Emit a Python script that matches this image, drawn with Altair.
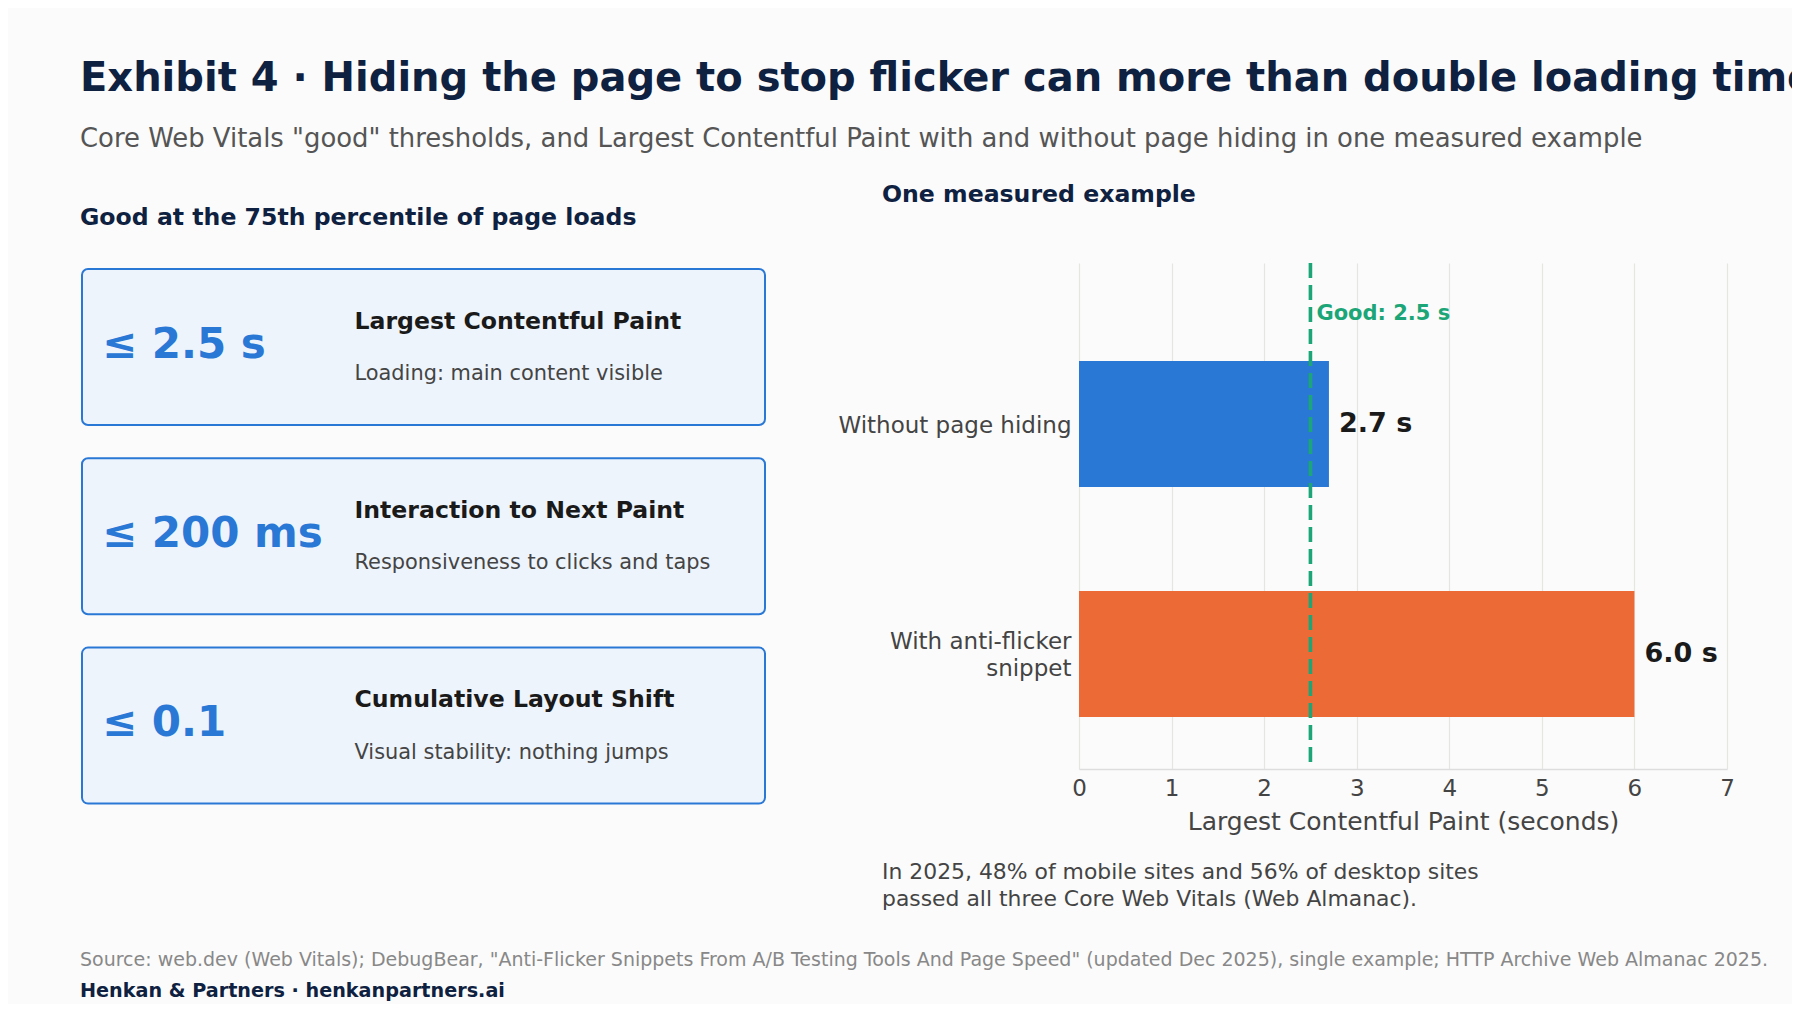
import pandas as pd
import altair as alt

FONT = "DejaVu Sans"
NAVY = "#0f2140"
BLUE = "#2a78d6"
ORANGE = "#ec6a36"
GREEN = "#1ca678"

# Page text
title = "Exhibit 4 · Hiding the page to stop flicker can more than double loading times"
subtitle = ('Core Web Vitals "good" thresholds, and Largest Contentful Paint '
            'with and without page hiding in one measured example')
left_header = "Good at the 75th percentile of page loads"
right_header = "One measured example"
note_lines = ["In 2025, 48% of mobile sites and 56% of desktop sites",
              "passed all three Core Web Vitals (Web Almanac)."]
source = ('Source: web.dev (Web Vitals); DebugBear, "Anti-Flicker Snippets From A/B Testing '
          'Tools And Page Speed" (updated Dec 2025), single example; HTTP Archive Web Almanac 2025.')
footer = "Henkan & Partners · henkanpartners.ai"

# Threshold cards
card_values = ["≤ 2.5 s", "≤ 200 ms", "≤ 0.1"]
card_titles = ["Largest Contentful Paint", "Interaction to Next Paint", "Cumulative Layout Shift"]
card_descs = ["Loading: main content visible", "Responsiveness to clicks and taps",
              "Visual stability: nothing jumps"]

# Measured example
scenarios = ["Without page hiding", "With anti-flicker\nsnippet"]
lcp_seconds = [2.7, 6.0]
bar_colors = [BLUE, ORANGE]
good_lcp = [2.5]

# plot area origin on the page (px)
X0, Y0 = 1079, 263
W, H = 648, 506


def text_at(txt, x, y, size, color, weight="normal", align="left"):
    return alt.Chart(pd.DataFrame({"t": [txt]})).mark_text(
        align=align, baseline="alphabetic", font=FONT, fontSize=size,
        color=color, fontWeight=weight
    ).encode(x=alt.value(x - X0), y=alt.value(y - Y0), text="t:N")


layers = [
    text_at(title, 80, 91, 40, NAVY, "bold"),
    text_at(subtitle, 80, 147, 25.9, "#555555"),
    text_at(left_header, 80, 225, 23.6, NAVY, "bold"),
    text_at(right_header, 882, 202, 23.6, NAVY, "bold"),
]

# cards
for i in range(len(card_values)):
    top = 269 + i * 189.3
    card = alt.Chart(pd.DataFrame({"k": [i]})).mark_rect(
        fill="#eef4fc", stroke=BLUE, strokeWidth=2, cornerRadius=6
    ).encode(x=alt.value(82 - X0), x2=alt.value(765 - X0),
             y=alt.value(top - Y0), y2=alt.value(top + 156 - Y0))
    layers += [
        card,
        text_at(card_values[i], 102, top + 88.5, 42, BLUE, "bold"),
        text_at(card_titles[i], 354.5, top + 59.5, 23.6, "#1a1a1a", "bold"),
        text_at(card_descs[i], 354.5, top + 111, 20.9, "#444444"),
    ]

# note + footer
layers += [
    text_at(note_lines[0], 882, 879, 21.9, "#444444"),
    text_at(note_lines[1], 882, 906, 21.9, "#444444"),
    text_at(source, 80, 966, 19, "#888888"),
    text_at(footer, 80, 997, 19.2, NAVY, "bold"),
]

bars_df = pd.DataFrame({"scenario": scenarios, "lcp": lcp_seconds, "color": bar_colors})
good_df = pd.DataFrame({"good": good_lcp})

y_enc = alt.Y(
    "scenario:N", sort=scenarios, title=None,
    scale=alt.Scale(paddingInner=0.452, paddingOuter=0.326, align=0.653),
    axis=alt.Axis(domain=False, ticks=False, tickSize=0, labelPadding=8,
                  labelFontSize=23, labelColor="#444444", labelFont=FONT,
                  labelLineHeight=27, labelLimit=400,
                  labelOffset=alt.ConditionalAxisNumber(
                      condition={"test": "indexof(datum.value, '\\n') >= 0", "value": -11.5},
                      value=2),
                  labelExpr="split(datum.label, '\\n')"),
)

bars = alt.Chart(bars_df).mark_bar().encode(
    x=alt.X("lcp:Q", scale=alt.Scale(domain=[0, 7], nice=False),
            title="Largest Contentful Paint (seconds)",
            axis=alt.Axis(values=list(range(8)), format="d", grid=True, gridColor="#e6e6e0",
                          gridWidth=1.2, domainColor="#dddddd", domainWidth=1.5,
                          ticks=False, tickSize=0, labelPadding=8, labelFontSize=23,
                          labelFlush=False,
                          labelColor="#444444", labelFont=FONT, titleFont=FONT,
                          titleFontSize=25, titleColor="#444444", titleFontWeight="normal",
                          titlePadding=9)),
    y=y_enc,
    color=alt.Color("color:N", scale=None),
)

values = alt.Chart(bars_df).transform_calculate(
    lab="format(datum.lcp, '.1f') + ' s'"
).mark_text(align="left", baseline="middle", dx=10, font=FONT, fontSize=27,
            fontWeight="bold", color="#1a1a1a").encode(
    x="lcp:Q", y=alt.Y("scenario:N", sort=scenarios), text="lab:N"
)

good_rule = alt.Chart(good_df).mark_rule(
    color=GREEN, strokeWidth=3.6, strokeDash=[15, 7]
).encode(x="good:Q")

good_label = alt.Chart(good_df).transform_calculate(
    lab="'Good: ' + format(datum.good, '.1f') + ' s'"
).mark_text(align="left", baseline="alphabetic", dx=6, font=FONT, fontSize=21,
            fontWeight="bold", color=GREEN).encode(
    x="good:Q", y=alt.value(320 - Y0), text="lab:N"
)

chart = alt.layer(bars, good_rule, good_label, values, *layers).properties(
    width=W, height=H,
    autosize=alt.AutoSizeParams(type="none"),
    padding={"left": X0 - 8, "top": Y0 - 8, "right": 1784 - (X0 - 8) - W,
             "bottom": 996 - (Y0 - 8) - H},
    background="#fbfbfb",
).configure_view(stroke=None)

chart.save("out.html", embed_options={"renderer": "svg", "actions": False})
